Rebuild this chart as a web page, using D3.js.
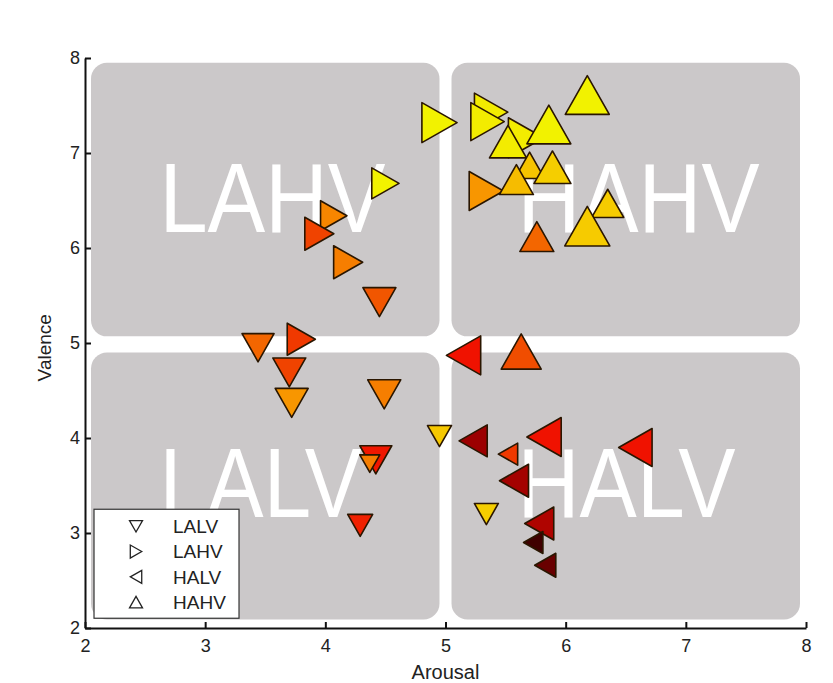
<!DOCTYPE html>
<html>
<head>
<meta charset="utf-8">
<script src="https://cdn.jsdelivr.net/npm/d3@7"></script>
<style>
  body { margin: 0; background: #fff; }
  svg { display: block; font-family: "Liberation Sans", Arial, sans-serif; }
</style>
</head>
<body>
<svg id="chart"></svg>
<script>
// quadrant names, legend order
const quadrants = ['LALV', 'LAHV', 'HALV', 'HAHV'];
const tickValues = [2, 3, 4, 5, 6, 7, 8];

// arousal / valence per group, plus marker weight and heat (colour) value
const lalvArousal = [3.44, 3.70, 3.72, 4.49, 4.45, 4.42, 4.37, 4.29, 4.95, 5.34];
const lalvValence = [4.95, 4.69, 4.37, 4.46, 5.43, 3.77, 3.73, 3.08, 4.02, 3.20];
const lalvWeight  = [0.64, 0.66, 0.66, 0.66, 0.66, 0.64, 0.40, 0.50, 0.48, 0.48];
const lalvHeat    = [0.60, 0.52, 0.72, 0.66, 0.56, 0.43, 0.66, 0.45, 0.85, 0.87];

const lahvArousal = [4.95, 4.50, 4.07, 3.95, 4.19, 3.80, 5.38, 5.35, 5.67, 5.34];
const lahvValence = [7.32, 6.68, 6.34, 6.15, 5.85, 5.04, 7.43, 7.33, 7.16, 6.60];
const lahvWeight  = [0.80, 0.62, 0.60, 0.66, 0.66, 0.64, 0.76, 0.76, 0.80, 0.78];
const lahvHeat    = [1.00, 1.00, 0.68, 0.52, 0.66, 0.50, 0.98, 0.98, 0.98, 0.72];

const halvArousal = [5.15, 5.23, 5.82, 6.58, 5.52, 5.57, 5.78, 5.73, 5.83];
const halvValence = [4.87, 3.97, 4.01, 3.90, 3.83, 3.55, 3.10, 2.90, 2.66];
const halvWeight  = [0.78, 0.64, 0.78, 0.76, 0.44, 0.66, 0.66, 0.44, 0.48];
const halvHeat    = [0.42, 0.20, 0.42, 0.42, 0.50, 0.22, 0.25, 0.02, 0.10];

const hahvArousal = [6.18, 5.86, 5.52, 5.70, 5.89, 5.59, 6.35, 6.18, 5.76, 5.63];
const hahvValence = [7.61, 7.30, 7.12, 6.87, 6.85, 6.72, 6.47, 6.23, 6.12, 4.91];
const hahvWeight  = [0.88, 0.88, 0.74, 0.60, 0.74, 0.68, 0.64, 0.90, 0.68, 0.80];
const hahvHeat    = [1.00, 1.00, 0.98, 0.84, 0.87, 0.82, 0.86, 0.86, 0.60, 0.54];

// quadrant boxes in data units
const boxArousal = { L: [2.05, 4.95], H: [5.05, 7.95] };
const boxValence = { L: [2.09, 4.90], H: [5.07, 7.95] };

class QuadScatter {

  constructor(_config) {
    this.config = {
      parentElement: _config.parentElement,
      containerWidth: _config.containerWidth || 833,
      containerHeight: _config.containerHeight || 683,
      margin: { top: 58, bottom: 55, right: 27, left: 85 }
    };
    this.initVis();
  }

  initVis() {
    let vis = this;

    vis.width = vis.config.containerWidth - vis.config.margin.left - vis.config.margin.right;
    vis.height = vis.config.containerHeight - vis.config.margin.top - vis.config.margin.bottom;

    vis.svg = d3.select(vis.config.parentElement)
        .attr('width', vis.config.containerWidth)
        .attr('height', vis.config.containerHeight);

    vis.chart = vis.svg.append('g')
        .attr('transform', `translate(${vis.config.margin.left},${vis.config.margin.top})`);

    vis.xScale = d3.scaleLinear().domain([2, 8]).range([0, vis.width]);
    vis.yScale = d3.scaleLinear().domain([2, 8]).range([vis.height, 0]);
    vis.sizeScale = d3.scaleLinear().domain([0, 1]).range([0, 50]);
    vis.heatScale = d3.scaleLinear()
        .domain([0, 0.2, 0.42, 0.55, 0.7, 0.85, 1])
        .range(['#360000', '#9c0000', '#f01200', '#f05200', '#f88e00', '#f6c800', '#f2f200']);

    // grey rounded quadrant boxes
    vis.chart.selectAll('.quad-box')
      .data(quadrants)
      .join('rect')
        .attr('class', 'quad-box')
        .attr('x', d => vis.xScale(boxArousal[d[0]][0]))
        .attr('y', d => vis.yScale(boxValence[d[2]][1]))
        .attr('width', d => vis.xScale(boxArousal[d[0]][1]) - vis.xScale(boxArousal[d[0]][0]))
        .attr('height', d => vis.yScale(boxValence[d[2]][0]) - vis.yScale(boxValence[d[2]][1]))
        .attr('rx', 16)
        .attr('fill', '#cbc8c9');

    // big white quadrant names (the font in the picture is a bit narrow)
    const labelWidth = { LALV: 202, LAHV: 226, HALV: 218, HAHV: 242 };
    vis.chart.selectAll('.quad-label')
      .data(quadrants)
      .join('text')
        .attr('class', 'quad-label')
        .attr('x', d => vis.xScale(d[0] === 'L' ? 2.62 : 5.6))
        .attr('y', d => vis.yScale(d[2] === 'L' ? 3.17 : 6.17))
        .attr('fill', '#fff')
        .attr('textLength', d => labelWidth[d])
        .attr('lengthAdjust', 'spacingAndGlyphs')
        .style('font-size', '98px')
        .text(d => d);

    // axes, ticks point inward
    vis.xAxis = d3.axisBottom(vis.xScale).tickValues(tickValues).tickFormat(d3.format('d'))
        .tickSizeInner(-6).tickSizeOuter(0).tickPadding(11);
    vis.yAxis = d3.axisLeft(vis.yScale).tickValues(tickValues).tickFormat(d3.format('d'))
        .tickSizeInner(-6).tickSizeOuter(0).tickPadding(5);

    vis.xAxisG = vis.chart.append('g')
        .attr('class', 'axis x-axis')
        .attr('transform', `translate(0,${vis.height})`)
        .call(vis.xAxis);

    vis.yAxisG = vis.chart.append('g')
        .attr('class', 'axis y-axis')
        .call(vis.yAxis);

    vis.svg.selectAll('.axis path, .axis line').attr('stroke', '#111').attr('stroke-width', 2);
    vis.svg.selectAll('.axis text').attr('fill', '#222').style('font-size', '18px')
        .style('font-family', '"Liberation Sans", Arial, sans-serif');

    vis.chart.append('text')
        .attr('text-anchor', 'middle')
        .attr('x', vis.xScale(5))
        .attr('y', vis.height + 51)
        .attr('fill', '#222')
        .style('font-size', '20px')
        .text('Arousal');

    vis.chart.append('text')
        .attr('text-anchor', 'middle')
        .attr('transform', `translate(-34,${vis.yScale(4.95)}) rotate(-90)`)
        .attr('fill', '#222')
        .style('font-size', '19px')
        .text('Valence');

    vis.renderVis();
  }

  // triangle centred on its bounding box, s = base length
  triangle(dir, s) {
    let h = s * 0.88;
    if (dir === 'up') return `M0,${-h / 2}L${s / 2},${h / 2}L${-s / 2},${h / 2}Z`;
    if (dir === 'down') return `M0,${h / 2}L${s / 2},${-h / 2}L${-s / 2},${-h / 2}Z`;
    if (dir === 'right') return `M${h / 2},0L${-h / 2},${-s / 2}L${-h / 2},${s / 2}Z`;
    return `M${-h / 2},0L${h / 2},${-s / 2}L${h / 2},${s / 2}Z`;
  }

  renderVis() {
    let vis = this;

    const groups = [
      { name: 'LALV', dir: 'down', a: lalvArousal, v: lalvValence, w: lalvWeight, c: lalvHeat },
      { name: 'LAHV', dir: 'right', a: lahvArousal, v: lahvValence, w: lahvWeight, c: lahvHeat },
      { name: 'HALV', dir: 'left', a: halvArousal, v: halvValence, w: halvWeight, c: halvHeat },
      { name: 'HAHV', dir: 'up', a: hahvArousal, v: hahvValence, w: hahvWeight, c: hahvHeat }
    ];

    groups.forEach(g => {
      let pts = g.a.map((a, i) => ({ a: a, v: g.v[i], w: g.w[i], c: g.c[i] }));
      vis.chart.append('g').attr('class', 'pts-' + g.name)
        .selectAll('path')
        .data(pts)
        .join('path')
          .attr('transform', d => `translate(${vis.xScale(d.a)},${vis.yScale(d.v)})`)
          .attr('d', d => vis.triangle(g.dir, vis.sizeScale(d.w)))
          .attr('fill', d => vis.heatScale(d.c))
          .attr('stroke', '#2a1600')
          .attr('stroke-width', 1.6)
          .attr('stroke-linejoin', 'round');
    });

    // legend, bottom left
    const dirs = ['down', 'right', 'left', 'up'];
    vis.legend = vis.chart.append('g')
        .attr('transform', `translate(${vis.xScale(2.075)},${vis.yScale(3.25)})`);

    vis.legend.append('rect')
        .attr('width', 145)
        .attr('height', 109)
        .attr('fill', '#fff')
        .attr('stroke', '#333')
        .attr('stroke-width', 1.2);

    let rows = vis.legend.selectAll('.leg-row')
      .data(quadrants)
      .join('g')
        .attr('class', 'leg-row')
        .attr('transform', (d, i) => `translate(0,${17 + i * 25.3})`);

    rows.append('path')
        .attr('transform', 'translate(42,0)')
        .attr('d', (d, i) => vis.triangle(dirs[i], 13))
        .attr('fill', 'none')
        .attr('stroke', '#222')
        .attr('stroke-width', 1.3);

    rows.append('text')
        .attr('x', 79)
        .attr('dy', '0.36em')
        .attr('fill', '#222')
        .style('font-size', '19px')
        .text(d => d);
  }
}

new QuadScatter({ parentElement: '#chart' });
</script>
</body>
</html>
